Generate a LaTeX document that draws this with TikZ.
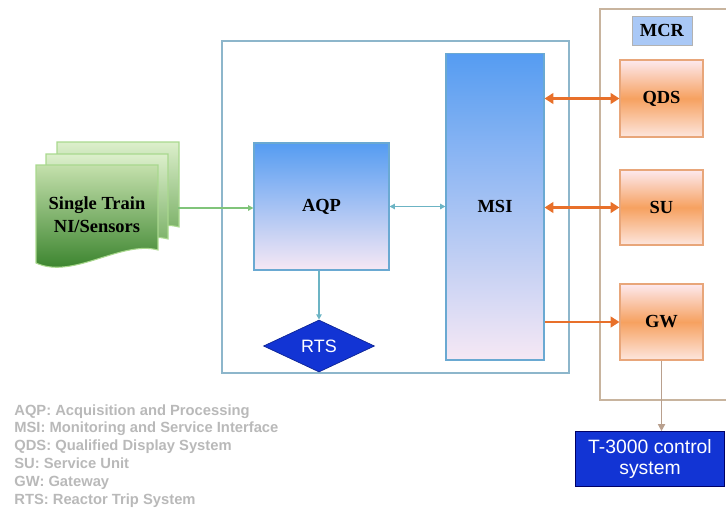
\documentclass[tikz,border=0pt]{standalone}
\usepackage{fontspec}
\setmainfont{Liberation Serif}
\setsansfont{Liberation Sans}
\usetikzlibrary{shapes.geometric,arrows.meta}

\definecolor{framecol}{HTML}{8DB6CB}
\definecolor{mcrcol}{HTML}{C8B49E}
\definecolor{boxedge}{HTML}{6AA9D2}
\definecolor{bluetop}{HTML}{559CF2}
\definecolor{bluebot}{HTML}{F6E8F4}
\definecolor{orgedge}{HTML}{E8A67A}
\definecolor{orgtop}{HTML}{FDE9EE}
\definecolor{orgmid}{HTML}{F6A160}
\definecolor{orgbot}{HTML}{FDE6DE}
\definecolor{orgline}{HTML}{E8702A}
\definecolor{greenline}{HTML}{80C47A}
\definecolor{tealline}{HTML}{6CB4C4}
\definecolor{tanline}{HTML}{B9A08E}
\definecolor{deepblue}{HTML}{1234D4}
\definecolor{sheetedge}{HTML}{A9D88E}
\definecolor{sheettop}{HTML}{DCEFCB}
\definecolor{sheetbot}{HTML}{5E9E4A}
\definecolor{fronttop}{HTML}{C4E0AC}
\definecolor{frontbot}{HTML}{2C7A20}
\definecolor{mcrfill}{HTML}{A9C8F6}

\tikzset{
  bluebox/.style={draw=boxedge, line width=0.6pt, top color=bluetop, bottom color=bluebot,
    font=\bfseries\fontsize{10.5}{12}\selectfont},
  orgbox/.style={draw=orgedge, line width=0.6pt, top color=orgtop, bottom color=orgbot, middle color=orgmid,
    minimum width=1.66cm, font=\bfseries\fontsize{10.5}{12}\selectfont},
  sheetback/.style={draw=sheetedge, line width=0.6pt, top color=sheettop, bottom color=sheetbot},
  sheetfront/.style={draw=sheetedge, line width=0.6pt, top color=fronttop, bottom color=frontbot},
  orgarrow/.style={draw=orgline, line width=1.6pt, -{Triangle[length=5pt,width=6pt]}},
}

\def\sheet[#1](#2,#3){\draw[#1] (#2,#3) -- ++(122,0) -- ++(0,85) .. controls +(-36.6,-10) and +(36.6,17) .. ++(-122,13) -- cycle;}

\begin{document}
\begin{tikzpicture}[x=0.02cm, y=-0.02cm]
	%%%%% START %%%%%
	\useasboundingbox (0,0) rectangle (726,510);

	\draw[framecol, line width=0.7pt] (222,41) rectangle (569,373);
	\draw[mcrcol, line width=0.7pt] (727,9) -| (600,400) -- (727,400);

	\sheet[sheetback](57,142);
	\sheet[sheetback](46,154);
	\sheet[sheetfront](36,165);
	\node[align=center, font=\bfseries\fontsize{10.5}{13}\selectfont] (sensors) at (97,215) {Single Train\\NI/Sensors};
	\coordinate (sensout) at (178,208);

	\node[bluebox, minimum width=2.7cm, minimum height=2.54cm] (aqp) at (321.5,206.5) {AQP};
	\node[bluebox, minimum width=1.96cm, minimum height=6.14cm] (msi) at (495,206.5) {MSI};
	\node[diamond, fill=deepblue, draw=deepblue!70!black, minimum width=2.22cm, minimum height=1.04cm, inner sep=0pt,
		text=white, font=\sffamily\fontsize{10.2}{12}\selectfont] (rts) at (319,346) {RTS};

	\node[draw=gray!60, fill=mcrfill, minimum width=1.2cm, minimum height=0.58cm,
		font=\bfseries\fontsize{10.5}{12}\selectfont] (mcr) at (662,30.5) {MCR};
	\node[orgbox, minimum height=1.54cm] (qds) at (661.5,98.5) {QDS};
	\node[orgbox, minimum height=1.5cm] (su) at (661.5,207.5) {SU};
	\node[orgbox, minimum height=1.52cm] (gw) at (661.5,322) {GW};

	\node[fill=deepblue, draw=blue!40!black, minimum width=2.98cm, minimum height=1.1cm, align=center, text=white,
		font=\sffamily\fontsize{11}{12.5}\selectfont] (tctrl) at (650,459) {T-3000 control\\system};

	\draw[greenline, line width=0.8pt, -{Triangle[length=3pt,width=3pt]}] (sensout) -- (sensout -| aqp.west);
	\draw[tealline, line width=0.8pt, {Triangle[length=3pt,width=3pt]}-{Triangle[length=3pt,width=3pt]}] (aqp.east) -- (msi.west);
	\draw[tealline, line width=0.8pt, -{Triangle[length=3pt,width=3pt]}] (aqp.south -| rts.north) -- (rts.north);

	\draw[orgarrow, {Triangle[length=5pt,width=6pt]}-{Triangle[length=5pt,width=6pt]}] (msi.east |- qds) -- (qds.west);
	\draw[orgarrow, {Triangle[length=5pt,width=6pt]}-{Triangle[length=5pt,width=6pt]}] (msi.east |- su) -- (su.west);
	\draw[orgarrow] (msi.east |- gw) -- (gw.west);
	\draw[tanline, line width=0.9pt, -{Triangle[length=4pt,width=4pt]}] (gw.south) -- (tctrl.north -| gw.south);

	\node[anchor=north west, inner sep=0pt, align=left, text=gray!55,
		font=\sffamily\bfseries\fontsize{8.4}{10.2}\selectfont] (legend) at (14,404) {AQP: Acquisition and Processing\\MSI: Monitoring and Service Interface\\QDS: Qualified Display System\\SU: Service Unit\\GW: Gateway\\RTS: Reactor Trip System};

	%%%%% END %%%%%
\end{tikzpicture}
\end{document}
